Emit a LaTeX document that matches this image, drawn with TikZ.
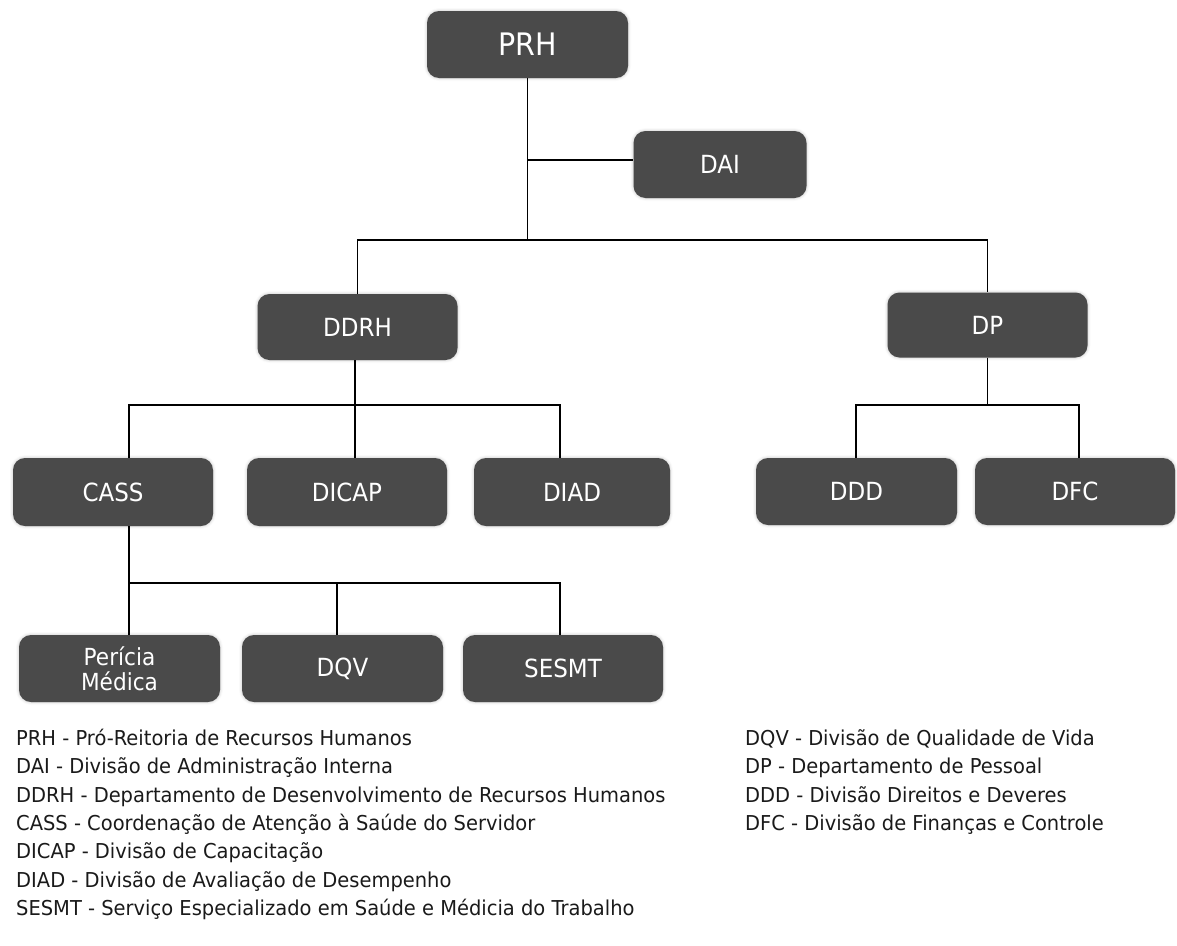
\documentclass[tikz,border=0pt]{standalone}
\usepackage{fontspec}
\setmainfont{DejaVu Sans}
\newfontfamily\boxfont[FakeStretch=0.92]{DejaVu Sans}
\newfontfamily\legendfont[FakeStretch=0.95]{DejaVu Sans}
\usetikzlibrary{shadows.blur}
\definecolor{boxgray}{HTML}{4A4A4A}
\definecolor{legendtext}{HTML}{1A1A1A}
\begin{document}
\begin{tikzpicture}[x=1pt,y=-1pt,
  unit/.style={fill=boxgray, rounded corners=12pt, minimum width=200pt, minimum height=67pt,
    text=white, font=\boxfont\fontsize{25}{28}\selectfont, align=center, inner sep=0pt,
    blur shadow={shadow xshift=0pt, shadow yshift=0pt, shadow blur radius=3pt, shadow opacity=25}},
  link/.style={draw=black, line width=1.4pt},
  legend/.style={anchor=base west, inner sep=0pt, text=legendtext,
    font=\legendfont\fontsize{20.5}{22}\selectfont}]
\useasboundingbox (0,0) rectangle (1177,945);

% top level
\node[unit, font=\boxfont\fontsize{31}{34}\selectfont, minimum width=201pt] (PRH) at (527.5,44.5) {PRH};
\node[unit, minimum width=173pt] (DAI) at (720,164.5) {DAI};

% departments
\node[unit, minimum height=66pt] (DDRH) at (357.5,327) {DDRH};
\node[unit, minimum height=65pt] (DP) at (987.5,325) {DP};

% divisions
\node[unit, minimum height=68pt] (CASS) at (113,492) {CASS};
\node[unit, minimum height=68pt] (DICAP) at (347,492) {DICAP};
\node[unit, minimum height=68pt, minimum width=196pt] (DIAD) at (572,492) {DIAD};
\node[unit, minimum width=201pt] (DDD) at (856.5,491.5) {DDD};
\node[unit] (DFC) at (1075,491.5) {DFC};

% sections under CASS
\node[unit, minimum width=201pt, font=\boxfont\fontsize{23.5}{25}\selectfont] (PM) at (119.5,668.5) {Perícia\\Médica};
\node[unit, minimum width=201pt] (DQV) at (342.5,668.5) {DQV};
\node[unit] (SESMT) at (563,668.5) {SESMT};

% junction points of the tree
\coordinate (busA) at (527.5,240);
\coordinate (busB) at (355,405);
\coordinate (busC) at (129,583);
\coordinate (busD) at (987.5,405);

% connectors
\draw[link] (PRH.south) -- (busA);
\draw[link] (PRH.south |- DAI.west) ++(0,-4.5) -- ([yshift=4.5pt]DAI.west);
\draw[link] (DDRH.north) |- (busA) -| (DP.north);

\draw[link] ([xshift=-2.5pt]DDRH.south) -- (busB);
\draw[link] ([xshift=16pt]CASS.north) |- (busB) -| ([xshift=-12pt]DIAD.north);
\draw[link] (busB) -- ([xshift=8pt]DICAP.north);

\draw[link] ([xshift=16pt]CASS.south) -- (busC);
\draw[link] (busC) -- ([xshift=9.5pt]PM.north);
\draw[link] (busC) -| ([xshift=-3pt]SESMT.north);
\draw[link] ([xshift=-5.5pt]DQV.north) -- ([xshift=-5.5pt]DQV.north |- busC);

\draw[link] (DP.south) -- (busD);
\draw[link] ([xshift=-0.5pt]DDD.north) |- (busD) -| ([xshift=4pt]DFC.north);

% legend, left column
\node[legend] (l1) at (16,745.5) {PRH - Pró-Reitoria de Recursos Humanos};
\node[legend] (l2) at (16,773.8) {DAI - Divisão de Administração Interna};
\node[legend] (l3) at (16,802.1) {DDRH - Departamento de Desenvolvimento de Recursos Humanos};
\node[legend] (l4) at (16,830.4) {CASS - Coordenação de Atenção à Saúde do Servidor};
\node[legend] (l5) at (16,858.7) {DICAP - Divisão de Capacitação};
\node[legend] (l6) at (16,887.0) {DIAD - Divisão de Avaliação de Desempenho};
\node[legend] (l7) at (16,915.3) {SESMT - Serviço Especializado em Saúde e Médicia do Trabalho};

% legend, right column
\node[legend] (r1) at (745,745.5) {DQV - Divisão de Qualidade de Vida};
\node[legend] (r2) at (745,773.8) {DP - Departamento de Pessoal};
\node[legend] (r3) at (745,802.1) {DDD - Divisão Direitos e Deveres};
\node[legend] (r4) at (745,830.4) {DFC - Divisão de Finanças e Controle};
\end{tikzpicture}
\end{document}
